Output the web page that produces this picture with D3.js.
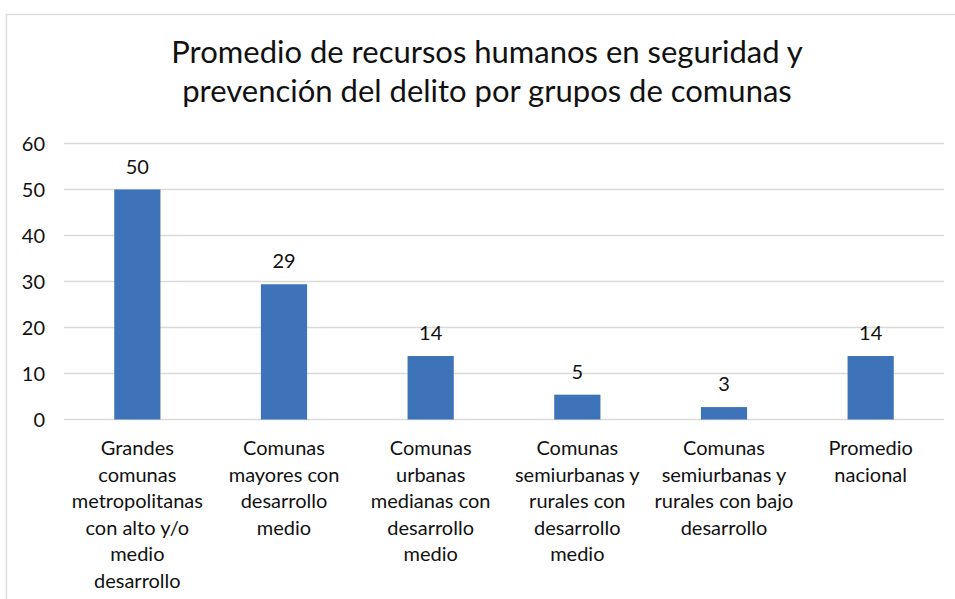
<!DOCTYPE html>
<html>
<head>
<meta charset="utf-8">
<script src="https://cdn.jsdelivr.net/npm/d3@7"></script>
<style>
  body { margin: 0; background: #fff; }
  svg { display: block; font-family: Lato, "Open Sans", sans-serif; }
</style>
</head>
<body>
<svg id="chart" width="955" height="599"></svg>
<script>
// data
const titleLines = [
  "Promedio de recursos humanos en seguridad y",
  "prevención del delito por grupos de comunas"
];
const categories = [
  ["Grandes", "comunas", "metropolitanas", "con alto y/o", "medio", "desarrollo"],
  ["Comunas", "mayores con", "desarrollo", "medio"],
  ["Comunas", "urbanas", "medianas con", "desarrollo", "medio"],
  ["Comunas", "semiurbanas y", "rurales con", "desarrollo", "medio"],
  ["Comunas", "semiurbanas y", "rurales con bajo", "desarrollo"],
  ["Promedio", "nacional"]
];
const values = [50, 29.4, 13.8, 5.4, 2.7, 13.8];
const yTicks = [0, 10, 20, 30, 40, 50, 60];

var svg = d3.select("#chart"),
  width = +svg.attr("width"),
  height = +svg.attr("height");

var plotLeft = 64, plotRight = 944;

// chart frame (only top and left visible)
svg.append("rect")
  .attr("x", 6.5).attr("y", 14.5)
  .attr("width", 1000).attr("height", 1000)
  .attr("fill", "none")
  .attr("stroke", "#d9d9d9")
  .attr("stroke-width", 1.3);

var x = d3.scaleBand()
  .domain(d3.range(categories.length))
  .range([plotLeft, plotRight])
  .paddingInner(0.685)
  .paddingOuter(0.3425);

var y = d3.scaleLinear()
  .domain([0, 60])
  .range([419.5, 143.5]);

// gridlines
svg.append("g")
  .selectAll("line")
  .data(yTicks)
  .enter()
  .append("line")
  .attr("x1", plotLeft).attr("x2", plotRight)
  .attr("y1", d => y(d)).attr("y2", d => y(d))
  .attr("stroke", "#d9d9d9")
  .attr("stroke-width", 1.3);

// y tick labels
svg.append("g")
  .selectAll("text")
  .data(yTicks)
  .enter()
  .append("text")
  .attr("x", 45)
  .attr("y", d => y(d))
  .attr("dy", "0.36em")
  .attr("text-anchor", "end")
  .attr("font-size", 20)
  .attr("fill", "#111")
  .text(d => d);

// bars
svg.append("g")
  .selectAll("rect")
  .data(values)
  .enter()
  .append("rect")
  .attr("x", (d, i) => x(i))
  .attr("y", d => y(d))
  .attr("width", x.bandwidth())
  .attr("height", d => y(0) - y(d))
  .attr("fill", "#3e72b9");

// value labels
svg.append("g")
  .selectAll("text")
  .data(values)
  .enter()
  .append("text")
  .attr("x", (d, i) => x(i) + x.bandwidth() / 2)
  .attr("y", d => y(d) - 16)
  .attr("text-anchor", "middle")
  .attr("font-size", 20)
  .attr("fill", "#111")
  .text(d => d3.format(".0f")(d));

// category labels
var cat = svg.append("g")
  .selectAll("text")
  .data(categories)
  .enter()
  .append("text")
  .attr("text-anchor", "middle")
  .attr("font-size", 20)
  .attr("fill", "#111");
cat.each(function(lines, i) {
  d3.select(this).selectAll("tspan")
    .data(lines)
    .enter()
    .append("tspan")
    .attr("x", x(i) + x.bandwidth() / 2)
    .attr("y", (l, j) => 455 + j * 26.5)
    .text(l => l);
});

// title
svg.append("text")
  .attr("text-anchor", "middle")
  .attr("font-size", 31)
  .attr("fill", "#111")
  .selectAll("tspan")
  .data(titleLines)
  .enter()
  .append("tspan")
  .attr("x", 487)
  .attr("y", (d, i) => 63 + i * 39)
  .text(d => d);
</script>
</body>
</html>
